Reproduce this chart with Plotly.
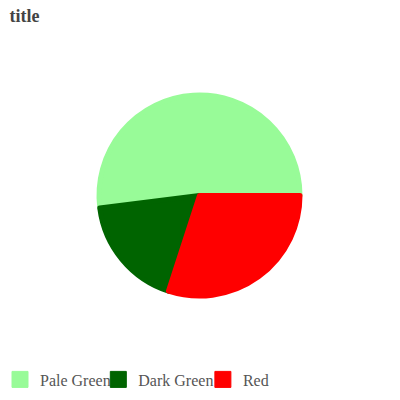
import plotly.graph_objects as go

labels = ["Pale Green", "Dark Green", "Red"]
values = [52, 18, 30]
colors = ["#98FB98", "#006400", "#FF0000"]

# first slice ends exactly at 3 o'clock going counterclockwise
rot = 90 - 360 * values[0] / sum(values)

fig = go.Figure(go.Pie(
    labels=labels, values=values, sort=False, direction="counterclockwise",
    rotation=rot, textinfo="none", hoverinfo="label+value", showlegend=False,
    marker=dict(colors=colors, line=dict(color=colors, width=5)),
))

legend_ids = ["legend", "legend2", "legend3"]
legend_x = [0.0, 0.2458, 0.5072]
for lab, col, lid in zip(labels, colors, legend_ids):
    fig.add_trace(go.Scatter(
        x=[None], y=[None], mode="markers", name=lab, legend=lid,
        marker=dict(symbol="square", size=16, color=col, line=dict(color=col, width=1)),
        hoverinfo="skip",
    ))

legend_common = dict(orientation="h", xref="container", yref="container",
                     xanchor="left", y=1 - 379.5/400, yanchor="middle",
                     entrywidth=120, entrywidthmode="pixels",
                     font=dict(family="Liberation Serif", size=16, color="#555555"),
                     bgcolor="rgba(0,0,0,0)")

fig.update_layout(
    width=400, height=400,
    margin=dict(l=19, r=20, t=95, b=104),
    paper_bgcolor="white", plot_bgcolor="white",
    font=dict(family="Liberation Serif", color="#555555", size=16),
    xaxis=dict(visible=False), yaxis=dict(visible=False),
    title=dict(text="<b>title</b>", font=dict(family="Liberation Serif", size=18, color="#444444"),
               xref="container", yref="container", x=0.024, y=1 - 16/400,
               xanchor="left", yanchor="middle"),
    legend=dict(x=legend_x[0], **legend_common),
    legend2=dict(x=legend_x[1], **legend_common),
    legend3=dict(x=legend_x[2], **legend_common),
)

fig.write_html("out.html", config={"displayModeBar": False},
               post_script="document.body.style.margin='0';")
